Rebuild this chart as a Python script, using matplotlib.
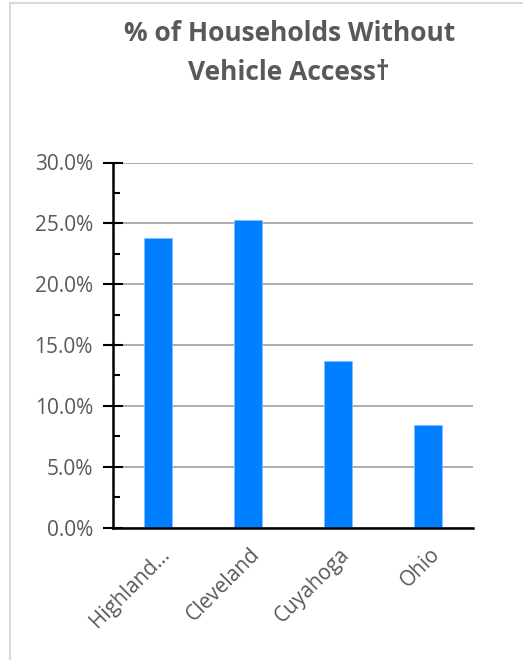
import matplotlib
matplotlib.use("Agg")
import matplotlib.pyplot as plt
from matplotlib.ticker import MultipleLocator, FuncFormatter
from matplotlib.lines import Line2D
import matplotlib.transforms as mtransforms

categories = ["Highland…", "Cleveland", "Cuyahoga", "Ohio"]
values = [23.8, 25.3, 13.7, 8.4]
y_ticks = [0, 5, 10, 15, 20, 25, 30]
title = "% of Households Without\nVehicle Access\u2020"

plt.rcParams['font.family'] = ['Open Sans', 'DejaVu Sans']
gray = "#595959"

fig = plt.figure(figsize=(5.23, 6.6), dpi=100)
ax = fig.add_axes([113/523, 1-527.5/660, 360/523, 365/660])

x = list(range(len(categories)))
ax.bar(x, values, width=0.32, color="#0080FF", edgecolor="#7FBFFF", linewidth=0.6, zorder=3)

ax.set_xlim(-0.5, len(categories) - 0.5)
ax.set_ylim(0, 30)
ax.set_yticks(y_ticks)
ax.yaxis.set_minor_locator(MultipleLocator(2.5))
ax.yaxis.set_major_formatter(FuncFormatter(lambda v, p: f"{v:.1f}%"))
ax.grid(axis='y', which='major', color="#A6A6A6", linewidth=1.3, zorder=0)

for s in ['top', 'right']:
    ax.spines[s].set_visible(False)
for s in ['left', 'bottom']:
    ax.spines[s].set_color('black')
    ax.spines[s].set_linewidth(1.8)
    ax.spines[s].set_zorder(4)

ax.tick_params(axis='y', which='major', direction='inout', length=15, width=1.5,
               color='black', labelsize=15, labelcolor=gray, pad=7)
ax.tick_params(axis='y', which='minor', direction='in', length=5, width=1.5, color='black')
ax.tick_params(axis='x', which='both', length=0, pad=12)

ax.set_xticks(x)
ax.set_xticklabels(categories, rotation=45, ha='right', va='top', rotation_mode='anchor',
                   fontsize=15, color=gray)
offset = mtransforms.ScaledTranslation(1/100, 0, fig.dpi_scale_trans)
for lbl in ax.get_xticklabels():
    lbl.set_transform(lbl.get_transform() + offset)

fig.text(0.553, 1-53/660, title, ha='center', va='center', fontsize=19, fontweight='bold',
         color=gray, linespacing=1.55)

# chart frame
fig.add_artist(Line2D([10/523, 10/523], [0, 1-3/660], transform=fig.transFigure, color="#D9D9D9", lw=1.5))
fig.add_artist(Line2D([10/523, 1], [1-3/660, 1-3/660], transform=fig.transFigure, color="#D9D9D9", lw=1.5))

fig.savefig("out.png", dpi=100)
